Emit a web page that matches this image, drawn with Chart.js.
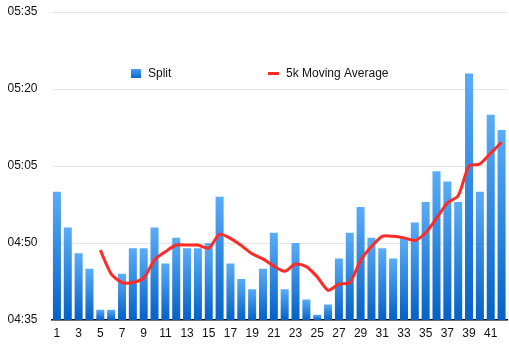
<!DOCTYPE html>
<html>
<head>
<meta charset="utf-8">
<script src="https://cdn.jsdelivr.net/npm/chart.js@4/dist/chart.umd.min.js"></script>
<style>
  html, body { margin: 0; padding: 0; background: #fff; }
  #wrap { width: 509px; height: 349px; position: relative; }
</style>
</head>
<body>
<div id="wrap"><canvas id="chart-splits"></canvas></div>
<script>
// Datos (segundos por km)
const splitLabels = ['1','2','3','4','5','6','7','8','9','10','11','12','13','14','15','16','17','18','19','20','21',
    '22','23','24','25','26','27','28','29','30','31','32','33','34','35','36','37','38','39','40','41','42'];
const splitSeconds = [300, 293, 288, 285, 277, 277, 284, 289, 289, 293, 286, 291, 289, 289, 290, 299, 286, 283, 281, 285, 292,
    281, 290, 279, 276, 278, 287, 292, 297, 291, 289, 287, 291, 294, 298, 304, 302, 298, 323, 300, 315, 312];
const movingAvg = [null, null, null, null, 288.6, 284, 282.3, 282.3, 283.2, 286.7, 288.3, 289.6, 289.6, 289.6, 289, 291.7, 290.9, 289.5, 287.9, 286.9, 285.5,
    284.5, 285.9, 285.4, 283.4, 280.8, 282, 282.3, 286.6, 289.3, 291.3, 291.3, 291, 290.5, 292, 294.8, 297.8, 299.2, 305, 305.4, 307.5, 309.6];
const yTicks = [275, 290, 305, 320, 335];

const FONT = 'Liberation Sans, Helvetica, Arial, sans-serif';

function mmss(sec) {
    const m = Math.floor(sec / 60);
    const s = Math.round(sec - m * 60);
    return '0' + m + ':' + (s < 10 ? '0' : '') + s;
}

// Degradado por barra (claro arriba, oscuro abajo)
function barGradient(context) {
    const chart = context.chart;
    const y = chart.scales.y;
    if (!chart.chartArea || !y || context.raw == null) return '#2a86e0';
    const top = y.getPixelForValue(context.raw);
    const base = y.getPixelForValue(275);
    const g = chart.ctx.createLinearGradient(0, top, 0, base);
    g.addColorStop(0, '#5aacf7');
    g.addColorStop(1, '#0561c6');
    return g;
}

// Leyenda dentro del área del gráfico
const innerLegend = {
    id: 'innerLegend',
    afterDraw(chart) {
        const ctx = chart.ctx;
        ctx.save();
        const g = ctx.createLinearGradient(0, 69, 0, 78);
        g.addColorStop(0, '#4aa0f0');
        g.addColorStop(1, '#0a66cc');
        ctx.fillStyle = g;
        ctx.fillRect(131, 69, 10, 9);
        ctx.strokeStyle = '#ff2b24';
        ctx.lineWidth = 3;
        ctx.beginPath();
        ctx.moveTo(268, 73.5);
        ctx.lineTo(279, 73.5);
        ctx.stroke();
        ctx.fillStyle = '#111';
        ctx.font = '12px ' + FONT;
        ctx.textBaseline = 'middle';
        ctx.fillText('Split', 148, 74);
        ctx.fillText('5k Moving Average', 286, 74);
        ctx.restore();
    }
};

const ctxSplits = document.getElementById('chart-splits').getContext('2d');
new Chart(ctxSplits, {
    type: 'bar',
    data: {
        labels: splitLabels,
        datasets: [{
            type: 'line',
            label: '5k Moving Average',
            data: movingAvg,
            borderColor: '#ff2b24',
            borderWidth: 3,
            pointRadius: 0,
            tension: 0.25,
            fill: false,
            order: 0
        }, {
            label: 'Split',
            data: splitSeconds,
            backgroundColor: barGradient,
            barPercentage: 0.74,
            categoryPercentage: 1,
            order: 1
        }]
    },
    options: {
        responsive: true,
        maintainAspectRatio: false,
        animation: false,
        layout: { padding: { top: 12, right: 2, left: 0, bottom: 0 } },
        plugins: {
            legend: { display: false },
            tooltip: { enabled: false }
        },
        scales: {
            x: {
                grid: { display: false, drawTicks: false },
                border: { color: '#000', width: 1.5 },
                ticks: {
                    autoSkip: false,
                    maxRotation: 0,
                    padding: 6,
                    color: '#111',
                    font: { family: FONT, size: 12 },
                    callback: (v, i) => (i % 2 === 0 ? splitLabels[i] : '')
                },
                afterFit: (s) => { s.height = 29; }
            },
            y: {
                min: 275,
                max: 335,
                afterBuildTicks: (s) => { s.ticks = yTicks.map(v => ({ value: v })); },
                grid: { color: '#e6e6e6', drawTicks: false },
                border: { display: false },
                ticks: {
                    padding: 14,
                    color: '#111',
                    font: { family: FONT, size: 12 },
                    callback: (v) => mmss(v)
                },
                afterFit: (s) => { s.width = 51.5; s.paddingTop = 0; s.paddingBottom = 0; }
            }
        }
    },
    plugins: [innerLegend]
});
</script>
</body>
</html>
